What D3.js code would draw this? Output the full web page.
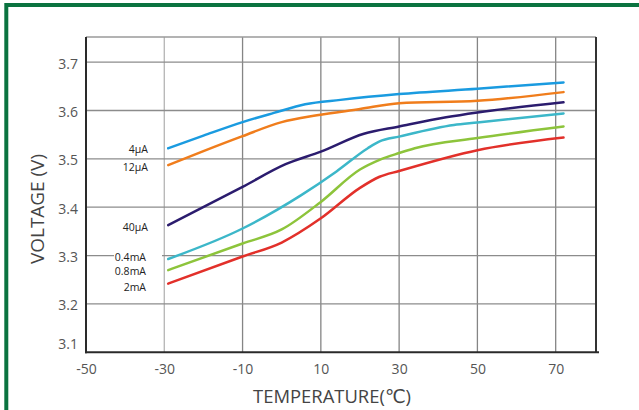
<!DOCTYPE html>
<html>
<head>
<meta charset="utf-8">
<script src="https://cdn.jsdelivr.net/npm/d3@7"></script>
<style>
  body { margin: 0; background: #fff; }
  svg { display: block; font-family: "Open Sans", "DejaVu Sans", sans-serif; }
</style>
</head>
<body>
<svg id="chart" width="639" height="410"></svg>
<script>
// series: [temperature °C, voltage V]
const temps4uA = [-29, -20, -10, -2, 6, 15, 30, 50, 72];
const volts4uA = [3.522, 3.548, 3.576, 3.595, 3.613, 3.622, 3.634, 3.645, 3.658];

const temps12uA = [-29, -20, -10, 0, 9, 20, 30, 50, 72];
const volts12uA = [3.487, 3.516, 3.547, 3.576, 3.590, 3.603, 3.615, 3.620, 3.638];

const temps40uA = [-29, -10, 1, 10, 21, 30, 42, 50, 72];
const volts40uA = [3.363, 3.442, 3.489, 3.515, 3.552, 3.567, 3.586, 3.596, 3.617];

const temps04mA = [-29, -10, 5, 14, 22, 25, 30, 44, 50, 72];
const volts04mA = [3.293, 3.356, 3.425, 3.474, 3.522, 3.536, 3.546, 3.570, 3.575, 3.594];

const temps08mA = [-29, -10, 0, 10, 20, 25, 30, 34, 50, 72];
const volts08mA = [3.270, 3.325, 3.354, 3.411, 3.478, 3.498, 3.512, 3.522, 3.543, 3.567];

const temps2mA = [-29, -10, 0, 10, 20, 25, 30, 50, 72];
const volts2mA = [3.242, 3.298, 3.327, 3.377, 3.440, 3.463, 3.475, 3.518, 3.544];

const seriesNames = ["4μA", "12μA", "40μA", "0.4mA", "0.8mA", "2mA"];
const labelVolts = [3.520, 3.482, 3.358, 3.296, 3.267, 3.234];
const xTicks = [-50, -30, -10, 10, 30, 50, 70];
const yTicks = [3.1, 3.2, 3.3, 3.4, 3.5, 3.6, 3.7];

const colors = ["#1a9be0", "#f07d1c", "#2b1c6e", "#3cb7c9", "#8dc43b", "#e2302a"];

const series = [
  [temps4uA, volts4uA], [temps12uA, volts12uA], [temps40uA, volts40uA],
  [temps04mA, volts04mA], [temps08mA, volts08mA], [temps2mA, volts2mA]
].map(([t, v], i) => ({
  name: seriesNames[i],
  labelV: labelVolts[i],
  color: colors[i],
  points: t.map((d, j) => ({ t: d, v: v[j] }))
}));

const svg = d3.select("#chart");

// green frame round the picture
svg.append("rect")
  .attr("x", 6.3).attr("y", 5)
  .attr("width", 700).attr("height", 500)
  .attr("fill", "none")
  .attr("stroke", "#0b7340")
  .attr("stroke-width", 4);

const x = d3.scaleLinear().domain([-50, 80.3]).range([86, 596]);
const y = d3.scaleLinear().domain([3.1, 3.752]).range([352.3, 37]);

// grid
svg.append("g").selectAll("line")
  .data(xTicks.slice(1))
  .join("line")
  .attr("x1", d => x(d)).attr("x2", d => x(d))
  .attr("y1", y.range()[1]).attr("y2", y.range()[0])
  .attr("stroke", d => d === -30 ? "#b4b4b4" : "#858585")
  .attr("stroke-width", 1.3);

svg.append("g").selectAll("line")
  .data(yTicks.slice(1))
  .join("line")
  .attr("x1", x.range()[0]).attr("x2", x.range()[1])
  .attr("y1", d => y(d)).attr("y2", d => y(d))
  .attr("stroke", "#8c8c8c")
  .attr("stroke-width", 1.3);

// frame
svg.append("line")
  .attr("x1", x.range()[0]).attr("x2", x.range()[1])
  .attr("y1", y.range()[1]).attr("y2", y.range()[1])
  .attr("stroke", "#9a9a9a").attr("stroke-width", 1.5);
svg.append("line")
  .attr("x1", x.range()[1]).attr("x2", x.range()[1])
  .attr("y1", y.range()[1]).attr("y2", y.range()[0])
  .attr("stroke", "#333").attr("stroke-width", 2);

// axes
const xAxis = svg.append("g")
  .attr("transform", `translate(0,${y.range()[0]})`)
  .call(d3.axisBottom(x).tickValues(xTicks).tickFormat(d => String(d)).tickSize(0).tickPadding(12));
xAxis.select(".domain").remove();
xAxis.append("line")
  .attr("x1", x.range()[0] - 1).attr("x2", 599)
  .attr("stroke", "#2a2a2a").attr("stroke-width", 2);
xAxis.selectAll("text")
  .attr("font-size", 14).attr("fill", "#555")
  .attr("font-family", "Open Sans, sans-serif");

const yAxis = svg.append("g")
  .attr("transform", `translate(${x.range()[0]},0)`)
  .call(d3.axisLeft(y).tickValues(yTicks).tickFormat(d3.format(".1f")).tickSize(0).tickPadding(8));
yAxis.select(".domain").remove();
yAxis.append("line")
  .attr("y1", y.range()[1]).attr("y2", y.range()[0] + 1)
  .attr("stroke", "#2a2a2a").attr("stroke-width", 2);
yAxis.selectAll("text")
  .attr("font-size", 14).attr("fill", "#555")
  .attr("font-family", "Open Sans, sans-serif")
  .attr("dy", d => d === 3.1 ? "-0.25em" : "0.42em");

// axis titles
svg.append("text")
  .attr("x", 332).attr("y", 403)
  .attr("text-anchor", "middle")
  .attr("font-size", 19)
  .attr("fill", "#444")
  .attr("textLength", 158).attr("lengthAdjust", "spacingAndGlyphs")
  .text("TEMPERATURE(℃)");

svg.append("text")
  .attr("transform", "translate(44,209) rotate(-90)")
  .attr("text-anchor", "middle")
  .attr("font-size", 19)
  .attr("fill", "#444")
  .attr("textLength", 110).attr("lengthAdjust", "spacingAndGlyphs")
  .text("VOLTAGE (V)");

// series lines
const line = d3.line()
  .x(d => x(d.t))
  .y(d => y(d.v))
  .curve(d3.curveMonotoneX);

svg.append("g").selectAll("path")
  .data(series)
  .join("path")
  .attr("d", d => line(d.points))
  .attr("fill", "none")
  .attr("stroke", d => d.color)
  .attr("stroke-width", 2.5)
  .attr("stroke-linecap", "round");

// series labels
const labels = svg.append("g").selectAll("g")
  .data(series)
  .join("g")
  .attr("transform", d => `translate(${d.name.endsWith("mA") ? 146 : 148},${y(d.labelV)})`);

labels.append("rect")
  .attr("x", d => d.name.endsWith("mA") ? -32 : -20)
  .attr("y", -6)
  .attr("width", d => d.name.endsWith("mA") ? 48 : 34)
  .attr("height", 12)
  .attr("fill", "#fff");

labels.append("text")
  .attr("text-anchor", "end")
  .attr("dy", "0.35em")
  .attr("font-size", 10.5)
  .attr("fill", "#222")
  .text(d => d.name);
</script>
</body>
</html>
